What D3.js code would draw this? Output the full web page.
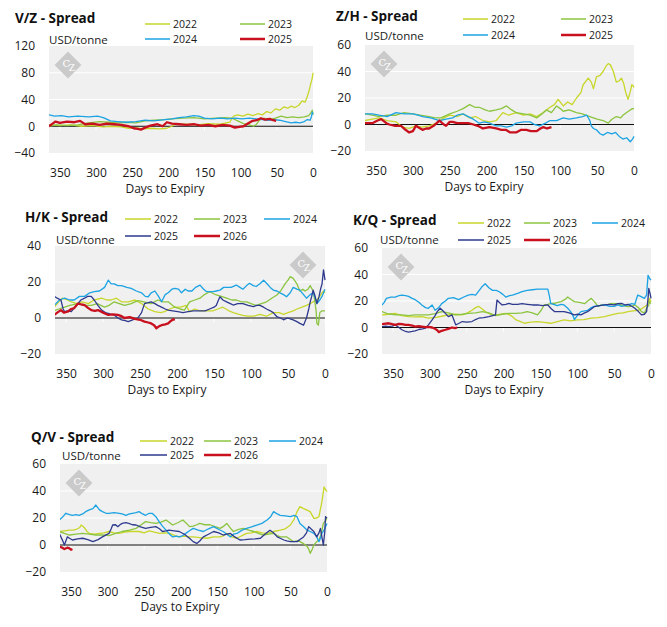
<!DOCTYPE html>
<html>
<head>
<meta charset="utf-8">
<script src="https://cdn.jsdelivr.net/npm/d3@7"></script>
<style>
  body { margin: 0; background: #fff; }
  svg { display: block; font-family: "Open Sans", sans-serif; }
</style>
</head>
<body>
<svg id="chart" width="667" height="627"></svg>
<script>
//// DATA  -- [days to expiry, USD/tonne]

// V/Z spread
const vz2022 = [[365,2],[350,1],[335,2],[320,0],[305,1],[290,-1],[280,0],[265,-1],[255,-3],[245,-2],[235,-4],[225,-3],[212,-4],[202,-3],[195,0],[190,3],[175,3],[160,2],[145,4],[128,3],[115,6],[110,15],[104,17],[97,15],[90,18],[83,16],[76,19],[70,17],[64,22],[58,20],[52,26],[46,24],[40,29],[35,27],[30,30],[25,28],[20,31],[15,38],[11,36],[8,44],[5,55],[3,64],[1,72],[0,80]]
const vz2023 = [[365,0],[355,2],[340,1],[325,2],[310,5],[295,7],[282,6],[270,5],[258,6],[245,5],[232,8],[220,9],[205,10],[195,11],[180,12],[165,13],[150,11],[135,12],[122,13],[112,12],[104,8],[96,4],[88,2],[82,0],[78,3],[74,9],[68,12],[60,10],[52,12],[44,15],[36,13],[28,14],[20,13],[12,14],[6,16],[3,20],[1,24],[0,17]]
const vz2024 = [[365,17],[357,15],[348,16],[338,14],[325,15],[310,14],[298,15],[290,13],[280,8],[270,7],[258,6],[245,7],[232,9],[220,8],[205,10],[195,11],[185,13],[175,14],[165,16],[158,15],[150,12],[140,11],[128,12],[118,11],[108,12],[98,11],[88,12],[78,11],[70,10],[62,9],[54,10],[46,9],[38,7],[30,5],[24,6],[18,5],[12,7],[8,10],[4,9],[2,15],[1,21],[0,18]]
const vz2025 = [[365,0],[360,4],[356,7],[350,5],[340,7],[330,6],[322,8],[315,3],[305,4],[295,2],[285,4],[275,3],[265,2],[255,0],[248,-3],[242,-4],[238,-5],[232,-2],[225,1],[215,3],[208,0],[202,6],[195,4],[185,3],[175,2],[165,3],[155,1],[145,2],[135,0],[125,2],[115,1],[108,-2],[102,-1],[96,0],[90,4],[84,8],[78,9],[72,12],[66,10],[60,11],[55,9],[51,8]]

// Z/H spread
const zh2022 = [[365,3],[355,4],[346,5],[335,3],[323,2],[314,-2],[305,-3],[296,-1],[288,-2],[278,-1],[268,1],[258,5],[250,7],[240,6],[232,8],[223,5],[215,6],[205,3],[196,2],[187,3],[178,9],[170,7],[160,9],[150,7],[141,8],[132,6],[123,9],[114,13],[108,15],[103,19],[96,14],[90,17],[84,15],[78,20],[72,24],[69,30],[62,35],[58,32],[55,27],[51,36],[46,37],[42,40],[38,44],[35,46],[32,45],[28,40],[24,32],[20,33],[17,35],[14,31],[12,26],[10,22],[8,19],[5,25],[3,30],[1,29],[0,28]]
const zh2023 = [[365,8],[355,7],[346,6],[335,7],[323,7],[312,9],[300,8],[290,7],[278,6],[270,5],[262,5],[250,8],[240,10],[232,12],[223,15],[216,13],[210,13],[202,11],[196,10],[187,11],[180,12],[173,14],[166,11],[160,9],[150,8],[141,7],[132,5],[125,8],[119,11],[112,9],[105,14],[100,12],[96,10],[88,11],[78,9],[70,8],[60,6],[50,4],[42,3],[35,1],[30,4],[24,6],[18,5],[15,7],[10,9],[5,11],[2,12],[0,12]]
const zh2024 = [[365,8],[355,8],[346,7],[335,6],[323,9],[312,8],[300,8],[293,7],[287,6],[276,5],[264,3],[255,4],[246,5],[240,7],[232,8],[225,6],[218,4],[210,1],[203,2],[196,1],[187,-1],[180,-1],[173,-2],[166,-1],[160,1],[150,2],[141,2],[135,0],[128,-1],[120,1],[114,3],[105,3],[96,5],[88,4],[78,5],[70,6],[64,7],[60,3],[58,-1],[55,-3],[51,-4],[46,-7],[42,-8],[36,-6],[30,-7],[25,-6],[20,-9],[15,-11],[10,-10],[5,-13],[2,-11],[0,-9]]
const zh2025 = [[365,1],[355,1],[348,3],[343,4],[336,1],[332,0],[324,-1],[316,-1],[310,-4],[305,-6],[300,-5],[296,-1],[290,-3],[287,-4],[282,-3],[278,-3],[272,-1],[264,3],[258,0],[255,-1],[250,2],[246,2],[240,1],[232,1],[225,1],[218,0],[212,-1],[205,-3],[196,-2],[187,-3],[180,-4],[174,-4],[168,-6],[160,-6],[153,-4],[146,-4],[140,-5],[132,-5],[127,-3],[123,-2],[118,-3],[112,-2]]

// H/K spread
const hk2022 = [[366,6],[360,9],[355,11],[348,10],[343,9],[335,8],[328,9],[320,8],[312,10],[302,11],[295,10],[289,10],[282,11],[275,9],[266,9],[257,10],[248,8],[239,5],[230,3.5],[222,3],[217,3.5],[210,5],[203,6],[195,6],[188,7],[183,3.5],[176,5],[169,4],[160,4],[152,4],[145,5],[138,6],[130,4],[124,3],[116,2],[111,1.5],[104,1],[96,1],[88,2],[79,1],[70,3],[62,3],[56,2],[50,3],[43,4],[38,5],[31,6],[25,7],[20,8],[16,9],[11,10],[7,12],[4,14],[2,15],[0,14]]
const hk2023 = [[366,4],[360,5],[352,6],[345,7],[334,8],[325,7],[316,7],[308,8],[298,6],[292,7],[285,9],[278,8],[271,7],[262,8],[253,9.6],[245,9],[235,8],[226,10],[219,9],[212,9],[203,6],[196,5],[190,4.4],[183,9],[176,10],[169,11],[163,13],[156,14.6],[147,12.8],[140,12],[133,11],[126,10],[120,10],[113,9],[106,9],[100,8],[93,7],[86,8],[79,9],[72,11],[65,12.8],[60,15],[54,19],[50,21],[47,23],[43,22],[38,19],[34,15],[30,16],[27,15],[23,16],[20,18],[16,15],[14,10],[12,4],[11,-3],[9,-4],[7,3],[4,4],[2,4],[0,4]]
const hk2024 = [[366,7],[359,10],[352,11],[345,10],[339,10],[332,12],[325,12],[318,14],[312,14.6],[305,15],[298,17],[293,21],[289,19],[285,19],[280,18],[275,18],[268,17],[262,16.5],[255,15],[248,14],[243,12],[239,11.8],[235,14],[230,15],[225,12],[221,9],[216,13],[212,14],[207,16],[203,16.5],[198,16],[194,14],[189,16],[185,15],[180,15],[175,17],[169,18.3],[164,16],[160,14.6],[151,14.6],[147,15],[142,15.5],[137,17],[133,17],[127,17],[120,18.3],[115,17],[111,16],[106,18],[102,19.3],[97,18],[93,17.5],[88,19],[83,21],[79,19.3],[74,17],[70,15.5],[65,15],[61,14],[56,13],[52,11.8],[47,14],[43,17],[38,16],[34,15.5],[29,13],[25,11],[20,13],[16,14],[13,11],[11,8],[7,10],[4,12],[2,14],[0,16]]
const hk2025 = [[366,12],[362,11],[357,10],[354,5],[352,3.5],[348,4],[343,3.5],[338,6],[334,8],[330,10],[325,11],[321,12],[316,12],[312,10],[307,7],[302,4.4],[297,3],[293,2.6],[289,2],[285,1.7],[280,0],[275,-1],[270,-1.5],[266,-2],[260,-1],[253,0],[248,3],[244,8],[239,8.5],[235,9],[230,8],[226,7],[221,6],[216,5],[212,4.4],[206,4],[199,3.5],[192,3],[185,3.5],[178,4],[169,4],[162,4],[156,5],[150,6],[147,7],[144,10],[142,11.8],[138,10],[133,9],[128,8],[124,7.2],[118,8],[111,8],[104,7],[97,6.3],[92,7],[88,7],[83,6],[79,5],[74,4],[70,3],[65,0.7],[60,0],[56,-1],[51,0],[47,-0.5],[43,-1],[38,-2],[34,-3],[29,-4],[27,-2],[25,0],[22,5],[20,9],[18,12],[16,15.5],[14,13],[11,8],[8,12],[6,16],[4,19],[2,26.7],[1,24],[0,21]]
const hk2026 = [[366,1.7],[362,3],[357,4.4],[353,3],[348,3.5],[343,5],[339,5.5],[334,8],[329,7.5],[325,7.2],[320,5.5],[316,4.4],[311,4],[307,4.4],[300,3],[293,1.7],[287,2],[280,1.7],[275,1],[271,0],[264,0.5],[257,-0.5],[250,-1],[244,-2],[239,-2.5],[235,-3],[231,-4],[228,-5.7],[224,-4.5],[221,-4],[216,-3.5],[212,-3],[208,-1.5],[205,-0.7],[203,-1]]

// K/Q spread
const kq2022 = [[365,9.5],[356,10],[347,10.7],[338,9],[329,8.2],[320,8],[311,8.2],[302,7],[293,7.5],[284,8.5],[275,9.5],[265,10],[256,9.5],[249,11],[243,13],[238,15],[234,16],[229,14],[225,12],[218,10],[211,9.5],[204,10],[197,10.7],[190,9],[183,5.7],[177,4.5],[172,3.2],[163,4],[154,4.5],[145,3.8],[136,3.2],[127,4.5],[118,5.7],[109,5],[100,5.7],[91,6],[81,7],[72,7.5],[63,8.2],[54,9.5],[45,10.7],[38,11],[31,12],[24,12.5],[18,13],[13,14],[9,15.7],[5,17],[2,22],[0,19.5]]
const kq2023 = [[365,12],[358,10.5],[352,10],[345,9.5],[338,9.5],[329,9],[320,9.5],[311,9.5],[302,9.5],[293,10.5],[284,12],[275,11],[265,9.5],[256,10],[248,10.7],[238,11],[229,12],[220,11],[211,9],[202,10],[193,10.7],[183,10.7],[175,11],[168,12],[161,11],[154,9.5],[149,13],[145,17],[140,17.5],[136,18],[129,18.5],[122,19.5],[117,21],[113,23],[108,21],[104,19.5],[97,19],[90,18],[86,20],[81,22],[76,19],[72,16],[67,17],[63,17],[58,17.5],[54,18],[49,18],[45,18],[38,16.5],[31,15.7],[26,16],[22,17],[17,15],[13,12],[9,11],[6,14.5],[3,17],[2,19.5],[0,18]]
const kq2024 = [[365,17],[362,19],[359,22],[353,23],[347,23],[342,24],[338,24.5],[333,24],[329,23.5],[324,22],[320,21],[315,19],[311,17],[306,15],[302,14.5],[297,17],[293,13],[288,15],[284,18],[279,20],[275,22],[268,22.5],[261,21],[254,23],[248,24.5],[243,25],[238,24.5],[233,28],[229,31],[225,33],[220,30],[215,28],[210,28],[206,27],[201,25],[197,23],[192,24],[188,24.5],[181,25.7],[175,27],[168,28],[161,28.5],[154,29],[147,29],[140,29],[138,24],[136,18],[132,17.5],[127,16.5],[122,17.5],[118,17],[113,14.5],[109,12],[106,9],[104,6],[100,9],[95,12],[90,12.5],[86,13],[81,15],[77,16],[70,16.5],[63,17],[56,16],[50,16],[45,17],[40,16],[35,16.5],[31,17],[26,18],[22,17.5],[18,24.5],[14,23.5],[9,22],[6,24.5],[4,39.5],[2,37],[0,35.7]]
const kq2025 = [[365,0.7],[360,1],[356,0.7],[351,1],[347,2],[342,0],[338,-1.7],[333,-3],[329,-3.5],[324,-3],[320,-2.5],[315,-1.5],[310,-1],[306,-0.5],[302,2],[297,5.7],[293,9],[290,12],[286,14.5],[282,12.5],[279,10.7],[275,8.2],[270,9.5],[265,2],[261,3],[256,4.5],[250,4],[243,4.5],[238,6],[234,7],[227,7.5],[220,8.2],[215,9],[211,9.5],[209,20.7],[205,18.5],[202,17],[197,17.5],[193,18.2],[188,17.5],[181,17.5],[175,18],[168,17.5],[161,17],[154,17],[147,16.5],[140,17],[135,14],[131,12],[124,12],[118,12],[111,11],[104,9.5],[99,10],[95,9.5],[90,11],[86,12],[81,14],[77,15.7],[70,16.5],[63,17],[56,17.5],[50,17],[45,18],[40,18.2],[35,17],[31,17.5],[26,16],[22,14.5],[17,12],[13,9.5],[9,10],[6,12],[4,22],[3,29.5],[1,25],[0,22]]
const kq2026 = [[365,2.5],[360,3],[356,3.2],[351,2.5],[347,2],[342,2.8],[338,2.5],[333,2],[329,2],[324,1.5],[320,0.7],[315,1],[311,0.7],[306,0.2],[302,0.5],[297,0],[293,-1],[290,-2],[288,-3.5],[284,-2.5],[279,-1.7],[275,-1],[270,0],[266,-0.5],[263,0]]

// Q/V spread
const qv2022 = [[366,10],[359,10.5],[352,11],[347,11],[343,11.5],[338,13],[336,14.8],[332,13],[328,10],[325,8.6],[318,8],[311,8.6],[305,9],[298,10],[291,9],[284,8.6],[277,9.5],[270,10],[263,10],[257,10],[250,9],[243,10.5],[236,9.5],[229,8.6],[222,9],[215,8.6],[208,7],[202,6],[195,6.5],[188,6],[183,6],[174,5.5],[164,5],[155,6],[146,6],[141,7],[137,8.6],[130,6],[123,5],[116,7],[110,8.6],[103,9],[96,10],[89,9],[82,8.6],[73,10],[64,11],[57,12],[50,14.8],[45,19],[41,24.7],[37,28.4],[32,27],[28,26],[23,24.7],[18,19.7],[14,20],[11,21],[7,32],[4,43],[2,41],[0,39.5]]
const qv2023 = [[366,10],[359,8.6],[352,7.4],[343,8],[334,8.6],[325,8],[316,7.4],[307,7.5],[298,7],[289,8.6],[280,10],[270,11],[261,12.3],[254,15],[248,17.3],[241,16.5],[234,16],[227,17],[220,18.5],[215,16.5],[211,14.8],[204,16.5],[197,18.5],[192,16],[188,13.6],[183,14],[178,15],[174,16],[167,15],[160,15],[153,13.6],[146,12.3],[141,14],[137,16],[132,12.5],[128,10],[121,11.5],[114,12.3],[107,11],[100,10],[93,8.5],[87,7.4],[80,8],[73,8.6],[68,7],[64,6],[59,6],[55,6],[50,4],[46,2.5],[41,3],[37,2.5],[32,1],[27,-1.2],[25,-3],[23,-6.2],[20,-3],[18,0],[14,2.5],[11,3.7],[8,8],[5,16],[2,18],[0,19.7]]
const qv2024 = [[366,18.5],[361,21],[357,23.5],[352,22.5],[348,22],[343,22.5],[339,22],[334,23],[330,24.7],[325,26],[320,27],[316,29.6],[311,26],[307,24.7],[302,23.5],[298,23.5],[291,24],[284,23.5],[280,23],[275,22],[270,23],[266,23.5],[261,24],[257,24.7],[252,23],[248,22],[243,23.5],[239,23.5],[234,21],[229,17],[225,14],[220,11],[215,8],[211,6],[206,6.5],[202,6],[197,7],[193,8.6],[188,10.5],[183,12.3],[176,11],[169,10],[162,12],[155,13.6],[148,11.5],[142,10],[137,8],[132,6],[128,8],[123,8.6],[116,11],[110,12.3],[103,13.5],[96,14.8],[89,16],[82,18.5],[77,21],[73,24.7],[68,23],[64,22],[57,21.5],[50,21],[45,22],[41,21],[37,16],[32,13.5],[27,11],[23,10],[18,8.6],[14,6],[11,2.5],[9,5],[7,8.6],[4,11],[2,13.6],[0,16]]
const qv2025 = [[366,8.6],[362,4],[359,0],[357,3],[355,6],[352,5],[348,3.7],[341,4.5],[334,5],[327,4],[320,2.5],[313,4],[307,6],[302,7.5],[298,8.6],[295,12],[293,14.8],[289,15],[286,13.6],[283,15],[280,16],[275,16.5],[271,16],[266,15],[261,14.8],[255,13.5],[248,12.3],[241,13],[234,13.6],[229,12],[225,10],[220,10.5],[216,11],[209,10.5],[202,10],[195,8],[188,5],[183,2.5],[178,1.2],[174,3],[169,6],[162,8],[155,10],[148,9],[142,7.4],[137,8],[132,8.6],[126,6],[119,3.7],[112,4],[105,4.4],[98,4.5],[91,5],[85,8],[78,11],[73,9],[68,6],[64,5],[59,3.7],[55,3],[50,2.5],[45,2.5],[41,2.5],[37,4],[32,6],[28,9],[25,13.6],[22,12],[18,10],[14,6],[11,9],[9,12.3],[7,6],[5,0],[3,10],[2,21],[0,20]]
const qv2026 = [[366,-1.2],[362,-2],[359,-3],[355,-2],[352,-2.5],[350,-3.5],[348,-3]]

const xTicks = [350, 300, 250, 200, 150, 100, 50, 0]

//// STYLE

const yellow = "#c8d62a"
const green = "#8bc43f"
const blue = "#1ca3e3"
const navy = "#2e3a8e"
const red = "#c8101e"

const thin = 1.3
const thick = 2.3

const svg = d3.select("#chart")

// one entry per chart panel; positions are the plot box in page pixels
const panels = [
  { title: "V/Z - Spread", x0: 49, x1: 313, y0: 46, y1: 153, yDomain: [-40, 120], yTicks: [-40, 0, 40, 80, 120],
    titleX: 15, titleY: 23, unitX: 49, unitY: 44, legendX: [145, 240], legendY: [24, 39], legendW: 25,
    xLabelX: 165, xLabelY: 193, mark: "tl",
    series: [
      { name: "2022", data: vz2022, color: yellow, width: thin },
      { name: "2023", data: vz2023, color: green, width: thin },
      { name: "2024", data: vz2024, color: blue, width: thin },
      { name: "2025", data: vz2025, color: red, width: thick }] },
  { title: "Z/H - Spread", x0: 365, x1: 634, y0: 45, y1: 151, yDomain: [-20, 60], yTicks: [-20, 0, 20, 40, 60],
    titleX: 336, titleY: 21, unitX: 365, unitY: 40, legendX: [463, 561], legendY: [19, 35], legendW: 25,
    xLabelX: 484, xLabelY: 191, mark: "tl",
    series: [
      { name: "2022", data: zh2022, color: yellow, width: thin },
      { name: "2023", data: zh2023, color: green, width: thin },
      { name: "2024", data: zh2024, color: blue, width: thin },
      { name: "2025", data: zh2025, color: red, width: thick }] },
  { title: "H/K - Spread", x0: 55, x1: 325, y0: 246, y1: 354, yDomain: [-20, 40], yTicks: [-20, 0, 20, 40],
    titleX: 25, titleY: 222, unitX: 56, unitY: 244, legendX: [125, 194, 264], legendY: [219, 236], legendW: 26,
    xLabelX: 167, xLabelY: 393.5, mark: "tr",
    series: [
      { name: "2022", data: hk2022, color: yellow, width: thin },
      { name: "2023", data: hk2023, color: green, width: thin },
      { name: "2024", data: hk2024, color: blue, width: thin },
      { name: "2025", data: hk2025, color: navy, width: thin },
      { name: "2026", data: hk2026, color: red, width: thick }] },
  { title: "K/Q - Spread", x0: 382, x1: 651, y0: 248, y1: 354, yDomain: [-20, 60], yTicks: [-20, 0, 20, 40, 60],
    titleX: 353, titleY: 225, unitX: 380, unitY: 244, legendX: [458, 524, 592], legendY: [223, 240], legendW: 26,
    xLabelX: 504, xLabelY: 393.5, mark: "tl",
    series: [
      { name: "2022", data: kq2022, color: yellow, width: thin },
      { name: "2023", data: kq2023, color: green, width: thin },
      { name: "2024", data: kq2024, color: blue, width: thin },
      { name: "2025", data: kq2025, color: navy, width: thin },
      { name: "2026", data: kq2026, color: red, width: thick }] },
  { title: "Q/V - Spread", x0: 60, x1: 327, y0: 464, y1: 572, yDomain: [-20, 60], yTicks: [-20, 0, 20, 40, 60],
    titleX: 31, titleY: 442, unitX: 62, unitY: 460, legendX: [140, 204, 269], legendY: [441, 455], legendW: 27,
    xLabelX: 180, xLabelY: 611, mark: "tl",
    series: [
      { name: "2022", data: qv2022, color: yellow, width: thin },
      { name: "2023", data: qv2023, color: green, width: thin },
      { name: "2024", data: qv2024, color: blue, width: thin },
      { name: "2025", data: qv2025, color: navy, width: thin },
      { name: "2026", data: qv2026, color: red, width: thick }] }
]

// the little grey "CZ" diamond in the plot corner
function watermark(g, cx, cy) {
  const w = g.append("g").attr("transform", `translate(${cx},${cy})`)
  w.append("rect")
    .attr("x", -9.5).attr("y", -9.5).attr("width", 19).attr("height", 19)
    .attr("transform", "rotate(45)")
    .attr("fill", "#cacaca")
  const t = w.append("text")
    .attr("x", -5.5).attr("y", 1.5)
    .style("font-family", "'DejaVu Serif', serif").style("font-size", "10px")
    .attr("fill", "#fff")
  t.append("tspan").text("C")
  t.append("tspan").text("Z").attr("dx", -1.5).attr("dy", 4).style("font-size", "9px")
}

function drawPanel(p, i) {
  const g = svg.append("g")
  const x = d3.scaleLinear().domain([365, 0]).range([p.x0, p.x1])
  const y = d3.scaleLinear().domain(p.yDomain).range([p.y1, p.y0])

  // plot background
  g.append("rect")
    .attr("x", p.x0).attr("y", p.y0)
    .attr("width", p.x1 - p.x0).attr("height", p.y1 - p.y0)
    .attr("fill", "#f0f0f0")

  // white gridlines (zero gets the black line instead)
  g.selectAll(".grid")
    .data(p.yTicks.filter(t => t !== 0 && t !== p.yDomain[0] && t !== p.yDomain[1]))
    .join("line")
    .attr("class", "grid")
    .attr("x1", p.x0).attr("x2", p.x1)
    .attr("y1", d => y(d)).attr("y2", d => y(d))
    .attr("stroke", "#fff").attr("stroke-width", 1.2)

  // faint tick marks hanging under the zero line
  g.selectAll(".xtick")
    .data(xTicks)
    .join("line")
    .attr("class", "xtick")
    .attr("x1", d => x(d)).attr("x2", d => x(d))
    .attr("y1", y(0)).attr("y2", y(0) + 4)
    .attr("stroke", "#fff").attr("stroke-width", 1)

  if (p.mark === "tr") watermark(g, p.x1 - 22, p.y0 + 19)
  else watermark(g, p.x0 + 19, p.y0 + 19)

  g.append("line")
    .attr("x1", p.x0).attr("x2", p.x1)
    .attr("y1", y(0)).attr("y2", y(0))
    .attr("stroke", "#111").attr("stroke-width", 1.1)

  // series lines, clipped to the plot box
  const clipId = "clip" + i
  g.append("clipPath").attr("id", clipId)
    .append("rect")
    .attr("x", p.x0).attr("y", p.y0 - 2)
    .attr("width", p.x1 - p.x0 + 2).attr("height", p.y1 - p.y0 + 2)

  const line = d3.line().x(d => x(d[0])).y(d => y(d[1]))
  g.append("g").attr("clip-path", `url(#${clipId})`)
    .selectAll("path")
    .data(p.series)
    .join("path")
    .attr("d", s => line(s.data))
    .attr("fill", "none")
    .attr("stroke", s => s.color)
    .attr("stroke-width", s => s.width)
    .attr("stroke-linejoin", "round")

  // axes
  const yAxis = g.append("g")
    .attr("transform", `translate(${p.x0},0)`)
    .call(d3.axisLeft(y).tickValues(p.yTicks).tickSize(0).tickPadding(14).tickFormat(d3.format("d")))
  yAxis.select(".domain").remove()
  yAxis.selectAll("text").style("font-size", "12px").style("font-family", "'Open Sans', sans-serif").attr("fill", "#1a1a1a")

  const xAxis = g.append("g")
    .attr("transform", `translate(0,${p.y1})`)
    .call(d3.axisBottom(x).tickValues(xTicks).tickSize(0).tickPadding(15).tickFormat(d3.format("d")))
  xAxis.select(".domain").remove()
  xAxis.selectAll("text").style("font-size", "12px").style("font-family", "'Open Sans', sans-serif").attr("fill", "#1a1a1a")

  // text
  g.append("text").text(p.title)
    .attr("x", p.titleX).attr("y", p.titleY)
    .style("font-size", "13.5px").style("font-weight", "bold")
    .attr("fill", "#111")
  g.append("text").text("USD/tonne")
    .attr("x", p.unitX).attr("y", p.unitY)
    .style("font-size", "11.5px")
    .attr("fill", "#1a1a1a")
  g.append("text").text("Days to Expiry")
    .attr("x", p.xLabelX).attr("y", p.xLabelY)
    .attr("text-anchor", "middle")
    .style("font-size", "12px")
    .attr("fill", "#1a1a1a")

  // legend, filled row by row
  const cols = p.legendX.length
  const items = g.selectAll(".legend")
    .data(p.series)
    .join("g")
    .attr("class", "legend")
    .attr("transform", (s, k) => `translate(${p.legendX[k % cols]},${p.legendY[Math.floor(k / cols)]})`)
  items.append("line")
    .attr("x1", 0).attr("x2", p.legendW)
    .attr("stroke", s => s.color)
    .attr("stroke-width", s => s.width === thick ? 2.5 : 1.5)
  items.append("text").text(s => s.name)
    .attr("x", p.legendW + 3).attr("y", 0).attr("dy", "0.35em")
    .style("font-size", "10.5px")
    .attr("fill", "#1a1a1a")
}

panels.forEach(drawPanel)
</script>
</body>
</html>
